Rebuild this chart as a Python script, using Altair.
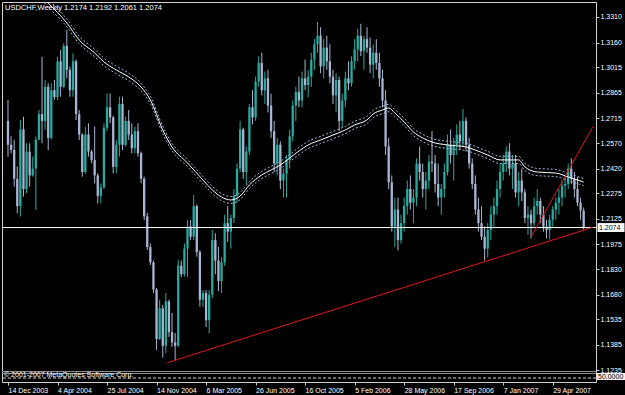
import altair as alt
import pandas as pd

chart_title = "USDCHF,Weekly  1.2174 1.2192 1.2061 1.2074"
copyright_text = "\u00a9 2001-2007 MetaQuotes Software Corp."
first_week = "2003-12-14"
first_open = 1.2700

highs = [
    1.2823, 1.2610, 1.2590, 1.2432, 1.2705, 1.2725, 1.2569, 1.2569, 1.2490, 1.2608,
    1.2764, 1.3077, 1.2940, 1.2920, 1.2921, 1.2940, 1.3077, 1.3116, 1.3156, 1.3234,
    1.3019, 1.3097, 1.3060, 1.2764, 1.2627, 1.2666, 1.2686, 1.2530, 1.2666, 1.2392,
    1.2334, 1.2686, 1.2862, 1.2862, 1.2730, 1.2588, 1.2842, 1.2842, 1.2725, 1.2764,
    1.2686, 1.2666, 1.2686, 1.2520, 1.2373, 1.2160, 1.1980, 1.1880, 1.1720, 1.1649,
    1.1620, 1.1690, 1.1650, 1.1573, 1.1455, 1.1884, 1.1880, 1.1981, 1.2118, 1.2118,
    1.2265, 1.2210, 1.1942, 1.1707, 1.1707, 1.1707, 1.2060, 1.2040, 1.1960, 1.1900,
    1.2150, 1.2200, 1.2150, 1.2300, 1.2450, 1.2700, 1.2660, 1.2550, 1.2800, 1.2880,
    1.2960, 1.3080, 1.3100, 1.2990, 1.3000, 1.2860, 1.2700, 1.2600, 1.2580, 1.2420,
    1.2500, 1.2650, 1.2820, 1.2900, 1.2960, 1.2990, 1.3060, 1.3000, 1.3100, 1.3180,
    1.3280, 1.3250, 1.3180, 1.3200, 1.3150, 1.3000, 1.2980, 1.2960, 1.2860, 1.2990,
    1.3050, 1.3080, 1.3180, 1.3240, 1.3270, 1.3200, 1.3250, 1.3190, 1.3150, 1.3180,
    1.3100, 1.3000, 1.2880, 1.2600, 1.2380, 1.2250, 1.2250, 1.2150, 1.2250, 1.2350,
    1.2380, 1.2300, 1.2480, 1.2550, 1.2450, 1.2400, 1.2500, 1.2640, 1.2500, 1.2450,
    1.2330, 1.2450, 1.2620, 1.2650, 1.2600, 1.2680, 1.2700, 1.2770, 1.2720, 1.2600,
    1.2480, 1.2380, 1.2250, 1.2200, 1.2080, 1.2100, 1.2200, 1.2250, 1.2350, 1.2450,
    1.2500, 1.2550, 1.2570, 1.2500, 1.2500, 1.2400, 1.2420, 1.2300, 1.2200, 1.2180,
    1.2250, 1.2300, 1.2250, 1.2200, 1.2120, 1.2150, 1.2200, 1.2250, 1.2300, 1.2350,
    1.2380, 1.2450, 1.2480, 1.2400, 1.2370, 1.2250, 1.2192,
]

lows = [
    1.2490, 1.2510, 1.2314, 1.2158, 1.2138, 1.2255, 1.2275, 1.2314, 1.2373, 1.2177,
    1.2588, 1.2569, 1.2647, 1.2529, 1.2590, 1.2823, 1.2823, 1.2842, 1.2890, 1.2950,
    1.2842, 1.2842, 1.2705, 1.2588, 1.2373, 1.2390, 1.2490, 1.2451, 1.2334, 1.2216,
    1.2216, 1.2300, 1.2640, 1.2686, 1.2392, 1.2392, 1.2490, 1.2529, 1.2549, 1.2588,
    1.2510, 1.2510, 1.2490, 1.2334, 1.2118, 1.1942, 1.1855, 1.1690, 1.1356, 1.1414,
    1.1310, 1.1338, 1.1432, 1.1373, 1.1297, 1.1373, 1.1784, 1.1786, 1.1786, 1.2001,
    1.2001, 1.1903, 1.1610, 1.1610, 1.1490, 1.1453, 1.1660, 1.1800, 1.1700, 1.1690,
    1.1850, 1.1990, 1.1950, 1.2100, 1.2220, 1.2400, 1.2360, 1.2330, 1.2500, 1.2680,
    1.2700, 1.2900, 1.2850, 1.2800, 1.2750, 1.2600, 1.2400, 1.2380, 1.2300, 1.2250,
    1.2250, 1.2420, 1.2580, 1.2700, 1.2780, 1.2780, 1.2880, 1.2840, 1.2900, 1.3000,
    1.3100, 1.2980, 1.2950, 1.3000, 1.2920, 1.2800, 1.2750, 1.2640, 1.2660, 1.2780,
    1.2880, 1.2900, 1.3000, 1.3050, 1.3080, 1.3000, 1.3100, 1.2980, 1.2950, 1.3000,
    1.2900, 1.2780, 1.2500, 1.2300, 1.2050, 1.1960, 1.1940, 1.1980, 1.2050, 1.2150,
    1.2180, 1.2100, 1.2200, 1.2350, 1.2250, 1.2180, 1.2300, 1.2400, 1.2280, 1.2200,
    1.2150, 1.2250, 1.2380, 1.2450, 1.2350, 1.2500, 1.2530, 1.2550, 1.2520, 1.2420,
    1.2300, 1.2150, 1.2050, 1.2000, 1.1880, 1.1900, 1.2000, 1.2080, 1.2150, 1.2250,
    1.2350, 1.2400, 1.2380, 1.2300, 1.2250, 1.2200, 1.2230, 1.2100, 1.2030, 1.2010,
    1.2080, 1.2150, 1.2100, 1.2050, 1.2010, 1.2005, 1.2080, 1.2120, 1.2150, 1.2200,
    1.2250, 1.2300, 1.2330, 1.2250, 1.2200, 1.2120, 1.2061,
]

closes = [
    1.2560, 1.2530, 1.2360, 1.2200, 1.2650, 1.2300, 1.2520, 1.2380, 1.2420, 1.2590,
    1.2740, 1.2700, 1.2900, 1.2600, 1.2880, 1.2840, 1.3050, 1.2900, 1.3140, 1.3000,
    1.2880, 1.3050, 1.2740, 1.2620, 1.2400, 1.2620, 1.2520, 1.2470, 1.2380, 1.2260,
    1.2310, 1.2660, 1.2780, 1.2720, 1.2430, 1.2560, 1.2800, 1.2560, 1.2700, 1.2620,
    1.2540, 1.2640, 1.2510, 1.2360, 1.2140, 1.1960, 1.1870, 1.1710, 1.1420, 1.1600,
    1.1380, 1.1640, 1.1460, 1.1400, 1.1380, 1.1850, 1.1800, 1.1950, 1.2080, 1.2020,
    1.2200, 1.1930, 1.1650, 1.1690, 1.1530, 1.1680, 1.2000, 1.1880, 1.1760, 1.1870,
    1.2100, 1.2050, 1.2130, 1.2260, 1.2420, 1.2650, 1.2400, 1.2520, 1.2780, 1.2720,
    1.2930, 1.3040, 1.2880, 1.2950, 1.2790, 1.2640, 1.2450, 1.2560, 1.2350, 1.2390,
    1.2470, 1.2610, 1.2790, 1.2870, 1.2820, 1.2950, 1.2910, 1.2960, 1.3060, 1.3150,
    1.3200, 1.3020, 1.3130, 1.3050, 1.2960, 1.2850, 1.2940, 1.2700, 1.2820, 1.2950,
    1.2920, 1.3050, 1.3120, 1.3200, 1.3110, 1.3180, 1.3130, 1.3030, 1.3100, 1.3040,
    1.2950, 1.2820, 1.2550, 1.2340, 1.2080, 1.2180, 1.2000, 1.2100, 1.2200, 1.2300,
    1.2220, 1.2250, 1.2450, 1.2400, 1.2300, 1.2350, 1.2460, 1.2450, 1.2330, 1.2250,
    1.2300, 1.2400, 1.2560, 1.2500, 1.2560, 1.2620, 1.2580, 1.2700, 1.2560, 1.2450,
    1.2330, 1.2180, 1.2100, 1.2020, 1.1950, 1.2060, 1.2150, 1.2200, 1.2300, 1.2400,
    1.2450, 1.2520, 1.2420, 1.2450, 1.2280, 1.2350, 1.2280, 1.2130, 1.2150, 1.2100,
    1.2200, 1.2230, 1.2150, 1.2080, 1.2060, 1.2120, 1.2180, 1.2220, 1.2250, 1.2320,
    1.2330, 1.2420, 1.2360, 1.2300, 1.2220, 1.2174, 1.2074,
]

# moving average (week index, value)
ma_week = [10, 13, 19, 23, 28, 31, 35, 39, 43, 46,
           50, 53, 58, 63, 66, 69, 72, 75, 78, 82,
           85, 88, 91, 94, 97, 101, 105, 109, 112, 116,
           118, 121, 123, 125, 128, 131, 134, 137, 142, 148,
           151, 155, 159, 165, 167, 171, 177, 181, 186]
ma_value = [1.3450, 1.3392, 1.3275, 1.3175, 1.3099, 1.3046, 1.2999, 1.2958, 1.2899, 1.2823,
            1.2647, 1.2547, 1.2453, 1.2353, 1.2295, 1.2253, 1.2236, 1.2259, 1.2324, 1.2383,
            1.2412, 1.2441, 1.2482, 1.2523, 1.2559, 1.2588, 1.2617, 1.2647, 1.2676, 1.2706,
            1.2741, 1.2764, 1.2776, 1.2746, 1.2694, 1.2635, 1.2600, 1.2576, 1.2559, 1.2547,
            1.2529, 1.2500, 1.2471, 1.2471, 1.2430, 1.2400, 1.2394, 1.2371, 1.2341]
envelope_dev = 0.0017

support_dates = ["2004-12-08", "2007-07-29"]
support_prices = [1.1280, 1.2076]
channel_dates = ["2007-03-11", "2007-07-29"]
channel_prices = [1.2019, 1.2666]

bid_price = 1.2074
y_ticks = [1.3310, 1.3160, 1.3015, 1.2865, 1.2715, 1.2570, 1.2420, 1.2275,
           1.2125, 1.1975, 1.1830, 1.1680, 1.1535, 1.1385, 1.1235]
x_tick_dates = ["2003-12-14", "2004-04-04", "2004-07-25", "2004-11-14", "2005-03-06",
                "2005-06-26", "2005-10-16", "2006-02-05", "2006-05-28", "2006-09-17",
                "2007-01-07", "2007-04-29"]

# ---------- tables ----------
weeks = pd.date_range(first_week, periods=len(closes), freq="7D")
opens = [first_open] + closes[:-1]
candles = pd.DataFrame({"date": weeks, "open": opens, "high": highs,
                        "low": lows, "close": closes})
candles["dir"] = ["up" if c >= o else "down" for o, c in zip(opens, closes)]

ma_df = pd.DataFrame({"date": weeks[ma_week], "ma": ma_value})
env_rows = []
for d, v in zip(weeks[ma_week], ma_value):
    env_rows.append({"date": d, "v": v * (1 + envelope_dev), "s": "upper"})
    env_rows.append({"date": d, "v": v * (1 - envelope_dev), "s": "lower"})
env_df = pd.DataFrame(env_rows)

trend_df = pd.DataFrame({
    "date": pd.to_datetime(support_dates + channel_dates),
    "price": support_prices + channel_prices,
    "line": ["support", "support", "channel", "channel"],
})

FONT = "Liberation Sans"
W, H = 594, 380
MAIN_H = 369

def dt(s, h=0):
    t = pd.Timestamp(s)
    return alt.DateTime(year=t.year, month=t.month, date=t.day, hours=h)

x_scale = alt.Scale(domain=[dt("2003-12-11", 18), dt("2007-07-24", 14)])
y_scale = alt.Scale(domain=[1.1232, 1.3398], range=[MAIN_H, 0], zero=False, nice=False)

x_axis = alt.Axis(values=[dt(s) for s in x_tick_dates], format="%-d %b %Y",
                  labelAlign="left", labelFlush=False, labelOverlap=False,
                  labelColor="white", labelFont=FONT, labelFontSize=7,
                  labelPadding=1, tickSize=3, tickColor="#c8c8c8",
                  domain=False, grid=False, title=None)
y_axis = alt.Axis(orient="right", values=y_ticks, format=".4f",
                  labelColor="white", labelFont=FONT, labelFontSize=7,
                  labelPadding=1, tickSize=3, tickColor="#c8c8c8",
                  labelOverlap=False, domain=False, grid=False, title=None)

def X(field):
    return alt.X(field, scale=x_scale, axis=x_axis, title=None)

def Y(field):
    return alt.Y(field, scale=y_scale, axis=y_axis, title=None)

color = alt.Color("dir:N", scale=alt.Scale(domain=["up", "down"],
                                           range=["#27ab9e", "#a9b6d2"]), legend=None)

wicks = alt.Chart(candles).mark_rule(strokeWidth=1).encode(
    x=X("date:T"), y=Y("low:Q"), y2="high:Q", color=color)
bodies = alt.Chart(candles).mark_bar(width=2.3).encode(
    x=X("date:T"), y=Y("open:Q"), y2="close:Q", color=color)
ma_line = alt.Chart(ma_df).mark_line(color="white", strokeWidth=1, clip=True,
                                     interpolate="monotone").encode(
    x=X("date:T"), y=Y("ma:Q"))
env_lines = alt.Chart(env_df).mark_line(color="#9bb8da", strokeWidth=1, strokeDash=[2, 2],
                                        clip=True, interpolate="monotone").encode(
    x=X("date:T"), y=Y("v:Q"), detail="s:N")
bid_df = pd.DataFrame({"price": [bid_price], "label": [f"{bid_price:.4f}"]})
bid_line = alt.Chart(bid_df).mark_rule(color="white", strokeWidth=1).encode(y=Y("price:Q"))
trend = alt.Chart(trend_df).mark_line(color="#e01818", strokeWidth=1, clip=True).encode(
    x=X("date:T"), y=Y("price:Q"), detail="line:N")
bid_box = alt.Chart(bid_df).mark_point(
    shape="M-1,-0.33L1,-0.33L1,0.33L-1,0.33Z", size=729, filled=True,
    color="white", opacity=1).encode(x=alt.value(609), y=Y("price:Q"))
bid_text = alt.Chart(bid_df).mark_text(align="left", baseline="middle", color="black",
                                       font=FONT, fontSize=7).encode(
    x=alt.value(597), y=Y("price:Q"), text="label:N")

one = pd.DataFrame({"k": [0]})
title_text = alt.Chart(one).mark_text(text=chart_title, align="left", baseline="middle",
                                      color="white", font=FONT, fontSize=7.5).encode(
    x=alt.value(3), y=alt.value(6))
sep1 = alt.Chart(one).mark_rule(color="#8a8a8a").encode(y=alt.value(369.5))
sep2 = alt.Chart(one).mark_rule(color="#8a8a8a").encode(y=alt.value(371.5))
level50 = alt.Chart(one).mark_rule(color="#d0d0d0", strokeDash=[3, 2]).encode(y=alt.value(376))
copy_text = alt.Chart(one).mark_text(text=copyright_text, align="left", baseline="middle",
                                     color="white", font=FONT, fontSize=7).encode(
    x=alt.value(2), y=alt.value(373))
box50 = alt.Chart(one).mark_rect(color="#f4f0f0").encode(
    x=alt.value(595), x2=alt.value(623), y=alt.value(371), y2=alt.value(378))
text50 = alt.Chart(one).mark_text(text="50.0000", align="left", baseline="middle",
                                  color="black", font=FONT, fontSize=7).encode(
    x=alt.value(596), y=alt.value(374.6))

chart = alt.layer(
    wicks, bodies, ma_line, env_lines, bid_line, trend,
    sep1, sep2, level50, copy_text, title_text,
    bid_box, bid_text, box50, text50,
).properties(
    width=W, height=H,
    autosize=alt.AutoSizeParams(type="none"),
    padding={"left": 2, "top": 2, "right": 29, "bottom": 13},
    background="black",
).configure_view(stroke="#d0d0d0", strokeWidth=1, fill="black")

chart.save("out.html", embed_options={"renderer": "svg", "actions": False})
